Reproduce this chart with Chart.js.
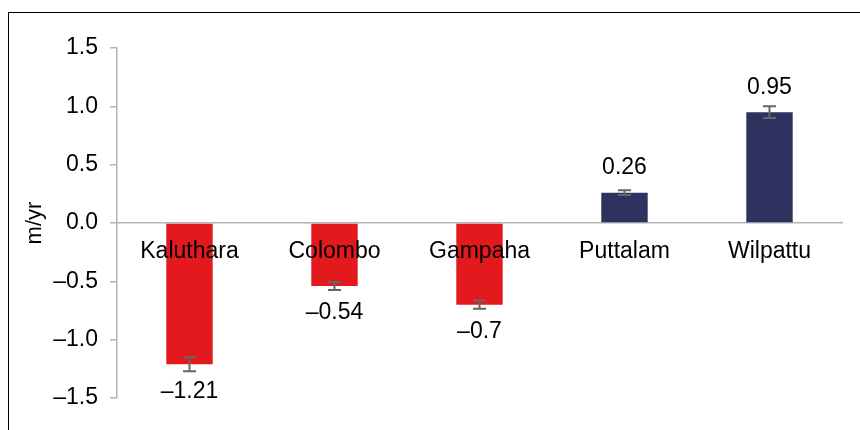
<!DOCTYPE html>
<html>
<head>
<meta charset="utf-8">
<script src="https://cdn.jsdelivr.net/npm/chart.js@4/dist/chart.umd.min.js"></script>
<style>
  html, body { margin: 0; padding: 0; background: #fff; }
  #wrap { position: relative; width: 860px; height: 430px; overflow: hidden; }
  #frame { position: absolute; left: 8px; top: 12px; width: 900px; height: 500px;
           border-top: 1.5px solid #000; border-left: 1.5px solid #000; }
  #c { position: absolute; left: 0; top: 0; }
</style>
</head>
<body>
<div id="wrap">
  <div id="frame"></div>
  <canvas id="c" width="860" height="430"></canvas>
</div>
<script>
// data
const sites  = ["Kaluthara", "Colombo", "Gampaha", "Puttalam", "Wilpattu"];
const rates  = [-1.21, -0.54, -0.7, 0.26, 0.95];   // m/yr
const errs   = [0.06, 0.035, 0.035, 0.02, 0.05];   // +/- error
const yTicks = [-1.5, -1.0, -0.5, 0.0, 0.5, 1.0, 1.5];

const RED  = "#e3191e";
const NAVY = "#2d335e";
const GREY_AXIS = "#b4b4b4";
const FONT = "'Liberation Sans', Arial, sans-serif";
const FS = 23;

function fmtNum(v, fixed){
  const s = fixed ? Math.abs(v).toFixed(1) : String(Math.abs(v));
  return (v < 0 ? "\u2013" : "") + s;
}

// error bars, value labels and category names (names go on top of the bars)
const extras = {
  id: "extras",
  afterDatasetsDraw(chart){
    const ctx = chart.ctx;
    const x = chart.scales.x, y = chart.scales.y;
    const zero = y.getPixelForValue(0);
    ctx.save();
    ctx.font = FS + "px " + FONT;
    ctx.textAlign = "center";
    ctx.textBaseline = "middle";
    rates.forEach((v, i) => {
      const cx = x.getPixelForValue(i);
      const hi = y.getPixelForValue(v + errs[i]);
      const lo = y.getPixelForValue(v - errs[i]);
      ctx.strokeStyle = "#666";
      ctx.lineWidth = 2;
      ctx.beginPath();
      ctx.moveTo(cx, hi); ctx.lineTo(cx, lo);
      ctx.moveTo(cx - 6.5, hi); ctx.lineTo(cx + 6.5, hi);
      ctx.moveTo(cx - 6.5, lo); ctx.lineTo(cx + 6.5, lo);
      ctx.stroke();

      const end = y.getPixelForValue(v);
      const ly = v < 0 ? end + 27 : end - 25;
      ctx.fillStyle = "#000";
      ctx.fillText(fmtNum(v, false), cx, ly);
      ctx.fillText(x.getLabelForValue(i), cx, zero + 29);
    });
    ctx.restore();
  }
};

new Chart(document.getElementById("c"), {
  type: "bar",
  data: {
    labels: sites,
    datasets: [{
      data: rates,
      backgroundColor: (c) => (c.raw < 0 ? RED : NAVY),
      borderWidth: 0,
      categoryPercentage: 1,
      barPercentage: 0.32,
    }]
  },
  options: {
    responsive: false,
    animation: false,
    layout: { padding: { left: 0, top: 48, right: 18, bottom: 32 } },
    plugins: { legend: { display: false }, tooltip: { enabled: false } },
    scales: {
      x: {
        position: { y: 0 },
        grid: { display: false, drawTicks: false },
        border: { display: true, color: GREY_AXIS, width: 1.5 },
        ticks: { display: false },
      },
      y: {
        min: -1.5,
        max: 1.5,
        afterFit: (s) => { s.width = 117; },
        afterBuildTicks: (s) => { s.ticks = yTicks.map(v => ({ value: v })); },
        grid: { drawOnChartArea: false, drawTicks: true, tickLength: 7, color: GREY_AXIS, lineWidth: 1.5 },
        border: { display: true, color: GREY_AXIS, width: 1.5 },
        ticks: {
          color: "#000",
          font: { family: FONT, size: FS },
          padding: 12,
          callback: (v) => fmtNum(v, true),
        },
        title: {
          display: true,
          text: "m/yr",
          color: "#000",
          font: { family: FONT, size: 22 },
          padding: { top: 22, bottom: 0 },
        }
      }
    }
  },
  plugins: [extras]
});
</script>
</body>
</html>
